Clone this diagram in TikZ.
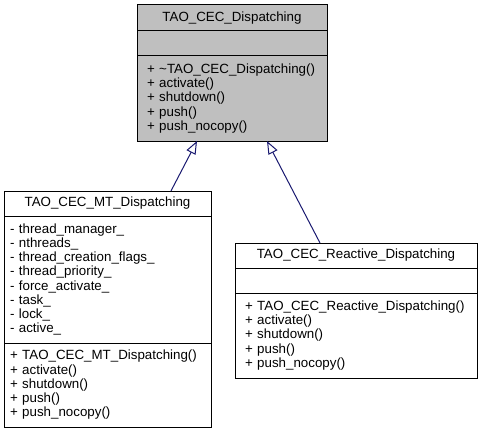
\documentclass[tikz,border=0pt]{standalone}
\usepackage{fontspec}
\setmainfont{Liberation Sans}
\usepackage[HTML]{xcolor}
\usetikzlibrary{positioning, arrows.meta}
\definecolor{edgeblue}{HTML}{191970}
\definecolor{basegray}{HTML}{BFBFBF}

\begin{document}
\begin{tikzpicture}[x=0.75pt, y=-0.75pt,
  part/.style={draw=black, line width=0.75pt, inner ysep=0pt, outer sep=0pt,
    font=\fontsize{10}{10.7}\selectfont},
  title/.style={part, align=center},
  members/.style={part, align=left},
  dispbox/.style={text width=127.5pt, inner xsep=7.5pt, fill=basegray},
  mtbox/.style={text width=146.25pt, inner xsep=4.5pt},
  reactbox/.style={text width=166.5pt, inner xsep=7.5pt},
  inherit/.style={draw=edgeblue, line width=0.75pt,
    -{Triangle[open, length=9.75pt, width=7.5pt]}}]
\useasboundingbox (0,0) rectangle (481,435);
% base class
\node[title, dispbox, anchor=north, minimum height=19.5pt] (dispTitle) at (232,5) {TAO\_CEC\_Dispatching};
\node[members, dispbox, minimum height=18.75pt, below=0pt of dispTitle] (dispAttr) {};
\node[members, dispbox, minimum height=63.75pt, below=0pt of dispAttr] (dispMeth)
  {+ \textasciitilde TAO\_CEC\_Dispatching()\\+ activate()\\+ shutdown()\\+ push()\\+ push\_nocopy()};
% MT dispatching
\node[title, mtbox, anchor=north, minimum height=18.75pt] (mtTitle) at (107.5,191) {TAO\_CEC\_MT\_Dispatching};
\node[members, mtbox, minimum height=95.25pt, below=0pt of mtTitle] (mtAttr)
  {- thread\_manager\_\\- nthreads\_\\- thread\_creation\_flags\_\\- thread\_priority\_\\- force\_activate\_\\- task\_\\- lock\_\\- active\_};
\node[members, mtbox, minimum height=63pt, below=0pt of mtAttr] (mtMeth)
  {+ TAO\_CEC\_MT\_Dispatching()\\+ activate()\\+ shutdown()\\+ push()\\+ push\_nocopy()};
% reactive dispatching
\node[title, reactbox, anchor=north, minimum height=18.75pt] (reactTitle) at (356,243) {TAO\_CEC\_Reactive\_Dispatching};
\node[members, reactbox, minimum height=18.75pt, below=0pt of reactTitle] (reactAttr) {};
\node[members, reactbox, minimum height=63.75pt, below=0pt of reactAttr] (reactMeth)
  {+ TAO\_CEC\_Reactive\_Dispatching()\\+ activate()\\+ shutdown()\\+ push()\\+ push\_nocopy()};
% inheritance
\draw[inherit] ([xshift=47.6pt]mtTitle.north) -- ([xshift=-26.25pt]dispMeth.south);
\draw[inherit] ([xshift=-27pt]reactTitle.north) -- ([xshift=26.25pt]dispMeth.south);
\end{tikzpicture}
\end{document}
